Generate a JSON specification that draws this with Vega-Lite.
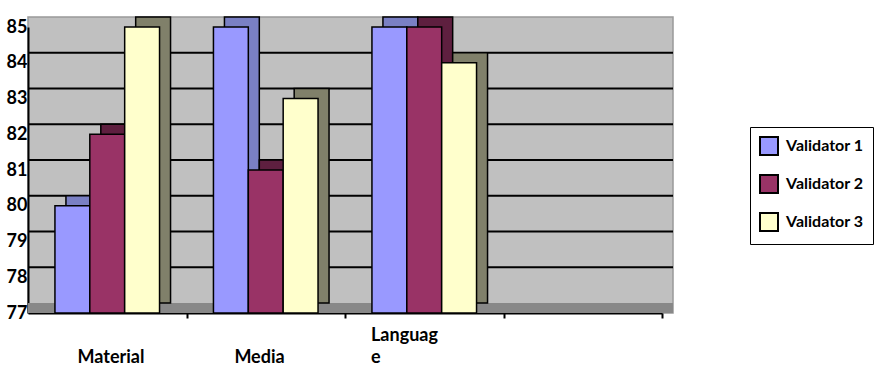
{
  "$schema": "https://vega.github.io/schema/vega-lite/v6.json",
  "width": 645,
  "height": 296,
  "autosize": {"type": "none"},
  "padding": {"left": 28, "top": 17, "right": 209, "bottom": 61},
  "background": "white",
  "config": {
    "font": "Lato",
    "view": {"fill": "#C0C0C0", "stroke": "#999999", "strokeWidth": 1.5},
    "axis": {"labelFont": "Lato", "labelFontWeight": "bold", "labelColor": "black", "domainColor": "black", "domainWidth": 2, "tickColor": "black", "tickWidth": 2, "title": null, "labelOverlap": false, "grid": false, "zindex": 1}
  },
  "datasets": {
    "scores": [
      {"aspect": "Material", "validator": "Validator 1", "score": 80},
      {"aspect": "Material", "validator": "Validator 2", "score": 82},
      {"aspect": "Material", "validator": "Validator 3", "score": 85},
      {"aspect": "Media", "validator": "Validator 1", "score": 85},
      {"aspect": "Media", "validator": "Validator 2", "score": 81},
      {"aspect": "Media", "validator": "Validator 3", "score": 83},
      {"aspect": "Language", "validator": "Validator 1", "score": 85},
      {"aspect": "Language", "validator": "Validator 2", "score": 85},
      {"aspect": "Language", "validator": "Validator 3", "score": 84}
    ],
    "gridlines": [
      {"level": 78}, {"level": 79}, {"level": 80}, {"level": 81}, {"level": 82}, {"level": 83}, {"level": 84}
    ],
    "floor": [
      {"level": 77}
    ]
  },
  "layer": [
    {
      "data": {"name": "scores"},
      "mark": {"type": "bar", "opacity": 0},
      "encoding": {
        "x": {
          "field": "aspect",
          "type": "nominal",
          "sort": null,
          "scale": {"domain": ["Material", "Media", "Language", "(blank)"], "paddingInner": 0.34, "paddingOuter": 0.17, "range": [0, 634]},
          "axis": {
            "labelAngle": 0,
            "labelFontSize": 18,
            "labelPadding": 8,
            "labelLineHeight": 22,
            "tickSize": 5,
            "tickOffset": 79.25,
            "labelAlign": {"condition": {"test": "datum.value == 'Language'", "value": "left"}, "value": "center"},
            "labelOffset": {"condition": [{"test": "datum.value == 'Language'", "value": -133}, {"test": "datum.value == 'Media'", "value": -86}], "value": -76},
            "labelExpr": "datum.label == 'Language' ? ['Languag', 'e'] : (datum.label == '(blank)' ? '' : ['', datum.label])"
          }
        },
        "y": {
          "field": "score",
          "type": "quantitative",
          "scale": {"domain": [77, 85], "zero": false, "nice": false, "range": [296, 10]},
          "axis": {"values": [77, 78, 79, 80, 81, 82, 83, 84, 85], "labelFontSize": 18, "ticks": false, "labelPadding": 1, "labelOverlap": false}
        },
        "y2": {"datum": 77}
      }
    },
    {
      "data": {"name": "floor"},
      "mark": {"type": "rule", "color": "#888888", "strokeWidth": 10, "yOffset": -5, "xOffset": 7, "clip": true},
      "encoding": {
        "y": {"field": "level", "type": "quantitative", "axis": null}
      }
    },
    {
      "data": {"name": "gridlines"},
      "mark": {"type": "rule", "color": "black", "strokeWidth": 2, "xOffset": 12, "yOffset": -10, "clip": true},
      "encoding": {
        "y": {"field": "level", "type": "quantitative", "axis": null}
      }
    },
    {
      "data": {"name": "scores"},
      "mark": {"type": "bar", "yOffset": -10, "y2Offset": -10, "stroke": "black", "strokeWidth": 1.5},
      "encoding": {
        "x": {"field": "aspect", "type": "nominal", "sort": null, "axis": null},
        "xOffset": {"field": "validator", "type": "nominal", "sort": null, "scale": {"range": [11, 115.6]}},
        "y": {"field": "score", "type": "quantitative", "axis": null},
        "y2": {"datum": 77},
        "color": {"field": "validator", "type": "nominal", "scale": {"range": ["#7A80C4", "#5E1F3F", "#80806A"]}, "legend": null}
      }
    },
    {
      "data": {"name": "scores"},
      "mark": {"type": "bar", "stroke": "black", "strokeWidth": 1.5},
      "encoding": {
        "x": {"field": "aspect", "type": "nominal", "sort": null, "axis": null},
        "xOffset": {"field": "validator", "type": "nominal", "sort": null, "scale": {"range": [0, 104.6]}},
        "y": {"field": "score", "type": "quantitative", "axis": null},
        "y2": {"datum": 77},
        "color": {
          "field": "validator",
          "type": "nominal",
          "scale": {"range": ["#9999FF", "#993366", "#FFFFCC"]},
          "legend": {
            "title": null,
            "orient": "none",
            "legendX": 722,
            "legendY": 110,
            "fillColor": "white",
            "strokeColor": "black",
            "padding": 9,
            "symbolType": "square",
            "symbolSize": 324,
            "symbolStrokeColor": "black",
            "symbolStrokeWidth": 2,
            "symbolOpacity": 1,
            "labelFont": "Lato",
            "labelFontSize": 16,
            "labelFontWeight": "bold",
            "labelColor": "black",
            "rowPadding": 12,
            "labelOffset": 7
          }
        }
      }
    }
  ],
  "resolve": {"scale": {"color": "independent", "xOffset": "independent"}, "axis": {"x": "independent", "y": "independent"}}
}
